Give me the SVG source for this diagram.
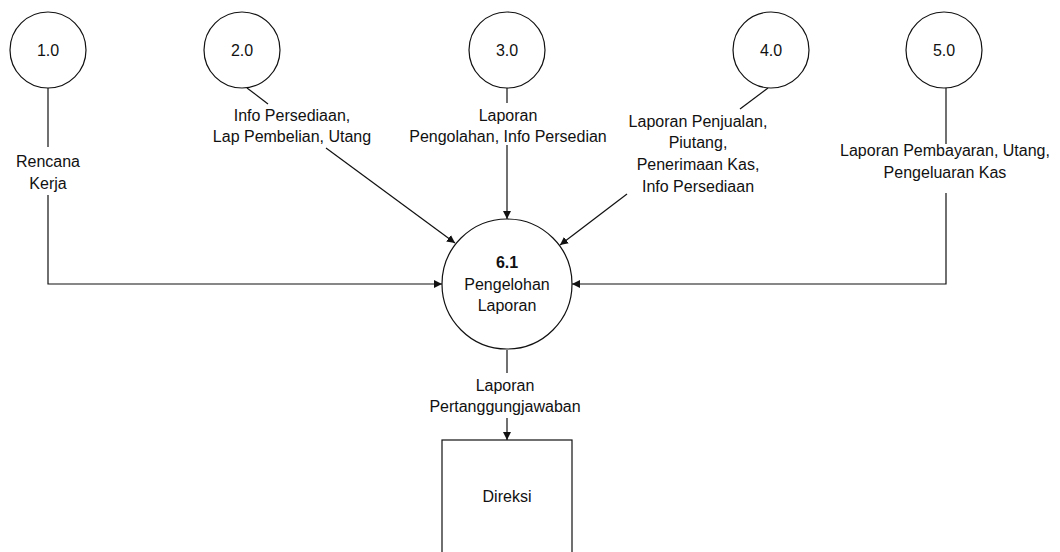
<svg xmlns="http://www.w3.org/2000/svg" width="1060" height="552" viewBox="0 0 1060 552">
  <defs>
    <style>
      .proc { fill: #ffffff; stroke: #111111; stroke-width: 1.2; }
      .flow { fill: none; stroke: #111111; stroke-width: 1.2; }
      .lbl { font-family: "Liberation Sans", Arial, sans-serif; font-size: 16px; fill: #111111; text-anchor: middle; }
      .num { font-weight: bold; }
    </style>
    <marker id="arrow" viewBox="0 0 10 10" refX="10" refY="5" markerWidth="8" markerHeight="8" markerUnits="userSpaceOnUse" orient="auto">
      <path d="M0,0 L10,5 L0,10 z" fill="#111111"/>
    </marker>
  </defs>
  <rect width="1060" height="552" fill="#ffffff"/>

  <!-- data flows -->
  <g id="connectors">
    <!-- 1.0 -> 6.1 -->
    <line class="flow" x1="48" y1="88" x2="48" y2="147"/>
    <polyline class="flow" points="48,195 48,284 442,284" marker-end="url(#arrow)"/>
    <!-- 2.0 -> 6.1 -->
    <line class="flow" x1="247" y1="88" x2="268" y2="104"/>
    <line class="flow" x1="326" y1="148" x2="455" y2="243" marker-end="url(#arrow)"/>
    <!-- 3.0 -> 6.1 -->
    <line class="flow" x1="507" y1="88" x2="507" y2="103"/>
    <line class="flow" x1="507" y1="145" x2="507" y2="219" marker-end="url(#arrow)"/>
    <!-- 4.0 -> 6.1 -->
    <line class="flow" x1="768" y1="88" x2="740" y2="109"/>
    <line class="flow" x1="627" y1="194" x2="560" y2="245" marker-end="url(#arrow)"/>
    <!-- 5.0 -> 6.1 -->
    <line class="flow" x1="946" y1="88" x2="946" y2="144"/>
    <polyline class="flow" points="946,193 946,284 572,284" marker-end="url(#arrow)"/>
    <!-- 6.1 -> Direksi -->
    <line class="flow" x1="507" y1="350" x2="507" y2="373"/>
    <line class="flow" x1="507" y1="418" x2="507" y2="440" marker-end="url(#arrow)"/>

    <text class="lbl" x="48" y="167">Rencana</text>
    <text class="lbl" x="48" y="189">Kerja</text>
    <text class="lbl" x="292" y="121">Info Persediaan,</text>
    <text class="lbl" x="292" y="142">Lap Pembelian, Utang</text>
    <text class="lbl" x="508" y="121">Laporan</text>
    <text class="lbl" x="508" y="142">Pengolahan, Info Persedian</text>
    <text class="lbl" x="698" y="127">Laporan Penjualan,</text>
    <text class="lbl" x="698" y="148">Piutang,</text>
    <text class="lbl" x="698" y="170">Penerimaan Kas,</text>
    <text class="lbl" x="698" y="192">Info Persediaan</text>
    <text class="lbl" x="945" y="156">Laporan Pembayaran, Utang,</text>
    <text class="lbl" x="945" y="178">Pengeluaran Kas</text>
    <text class="lbl" x="505" y="391">Laporan</text>
    <text class="lbl" x="505" y="412">Pertanggungjawaban</text>
  </g>

  <!-- processes -->
  <g id="p1">
    <circle class="proc" cx="48" cy="50" r="38"/>
    <text class="lbl" x="48" y="56">1.0</text>
  </g>
  <g id="p2">
    <circle class="proc" cx="242" cy="50" r="38"/>
    <text class="lbl" x="242" y="56">2.0</text>
  </g>
  <g id="p3">
    <circle class="proc" cx="507" cy="50" r="38"/>
    <text class="lbl" x="507" y="56">3.0</text>
  </g>
  <g id="p4">
    <circle class="proc" cx="771" cy="50" r="38"/>
    <text class="lbl" x="771" y="56">4.0</text>
  </g>
  <g id="p5">
    <circle class="proc" cx="944" cy="50" r="38"/>
    <text class="lbl" x="944" y="56">5.0</text>
  </g>
  <g id="p61">
    <circle class="proc" cx="507" cy="284" r="65"/>
    <text class="lbl num" x="507" y="268">6.1</text>
    <text class="lbl" x="507" y="290">Pengelohan</text>
    <text class="lbl" x="507" y="311">Laporan</text>
  </g>

  <!-- external entity -->
  <g id="direksi">
    <rect class="proc" x="442" y="440" width="130" height="130"/>
    <text class="lbl" x="507" y="502">Direksi</text>
  </g>
</svg>
